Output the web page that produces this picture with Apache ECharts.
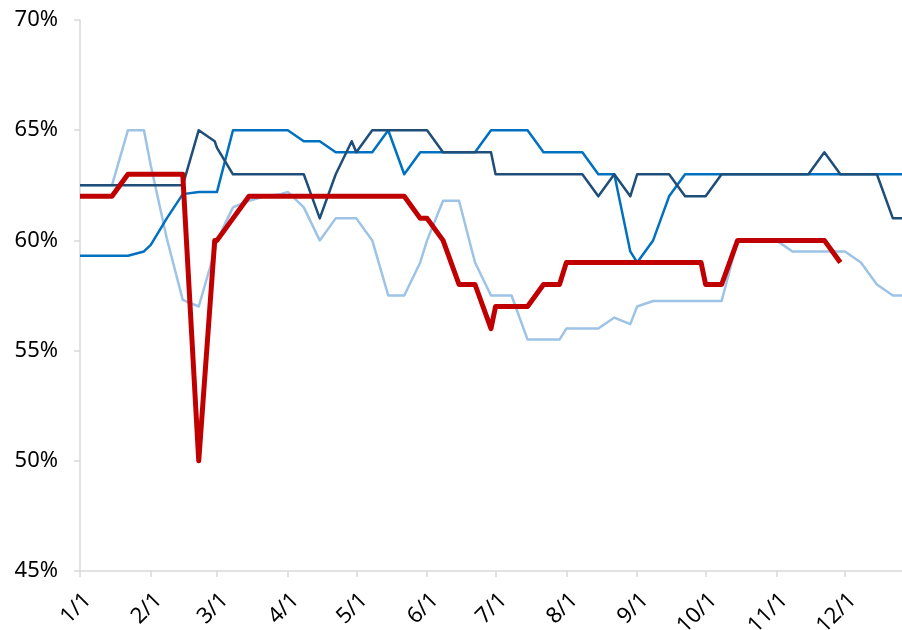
<!DOCTYPE html>
<html>
<head>
<meta charset="utf-8">
<script src="https://cdn.jsdelivr.net/npm/echarts@6/dist/echarts.min.js"></script>
<style>
  html, body { margin: 0; padding: 0; background: #fff; }
  #chart { width: 902px; height: 630px; }
</style>
</head>
<body>
<div id="chart"></div>
<script>
// Observation dates: 1st, 8th, 15th, 22nd and 29th of each month
const dates = [
  '2024-01-01','2024-01-08','2024-01-15','2024-01-22','2024-01-29',
  '2024-02-01','2024-02-08','2024-02-15','2024-02-22','2024-02-29',
  '2024-03-01','2024-03-08','2024-03-15','2024-03-22','2024-03-29',
  '2024-04-01','2024-04-08','2024-04-15','2024-04-22','2024-04-29',
  '2024-05-01','2024-05-08','2024-05-15','2024-05-22','2024-05-29',
  '2024-06-01','2024-06-08','2024-06-15','2024-06-22','2024-06-29',
  '2024-07-01','2024-07-08','2024-07-15','2024-07-22','2024-07-29',
  '2024-08-01','2024-08-08','2024-08-15','2024-08-22','2024-08-29',
  '2024-09-01','2024-09-08','2024-09-15','2024-09-22','2024-09-29',
  '2024-10-01','2024-10-08','2024-10-15','2024-10-22','2024-10-29',
  '2024-11-01','2024-11-08','2024-11-15','2024-11-22','2024-11-29',
  '2024-12-01','2024-12-08','2024-12-15','2024-12-22','2024-12-29'
];

// Series values (%)
const lightBlue = [
  62.5, 62.5, 62.5, 65, 65,
  63.4, 60.1, 57.3, 57.0, 59.5,
  60, 61.5, 61.8, 62, 62.1,
  62.2, 61.5, 60, 61, 61,
  61, 60, 57.5, 57.5, 59,
  60, 61.8, 61.8, 59, 57.5,
  57.5, 57.5, 55.5, 55.5, 55.5,
  56, 56, 56, 56.5, 56.2,
  57, 57.25, 57.25, 57.25, 57.25,
  57.25, 57.25, 60, 60, 60,
  60, 59.5, 59.5, 59.5, 59.5,
  59.5, 59, 58, 57.5, 57.5
];
const midBlue = [
  59.3, 59.3, 59.3, 59.3, 59.5,
  59.8, 61.0, 62.1, 62.2, 62.2,
  62.2, 65, 65, 65, 65,
  65, 64.5, 64.5, 64, 64,
  64, 64, 65, 63, 64,
  64, 64, 64, 64, 65,
  65, 65, 65, 64, 64,
  64, 64, 63, 63, 59.5,
  59.0, 60, 62, 63, 63,
  63, 63, 63, 63, 63,
  63, 63, 63, 63, 63,
  63, 63, 63, 63, 63
];
const navy = [
  62.5, 62.5, 62.5, 62.5, 62.5,
  62.5, 62.5, 62.5, 65, 64.5,
  64.2, 63, 63, 63, 63,
  63, 63, 61, 63, 64.5,
  64, 65, 65, 65, 65,
  65, 64, 64, 64, 64,
  63, 63, 63, 63, 63,
  63, 63, 62, 63, 62,
  63, 63, 63, 62, 62,
  62, 63, 63, 63, 63,
  63, 63, 63, 64, 63,
  63, 63, 63, 61, 61
];
const red = [
  62, 62, 62, 63, 63,
  63, 63, 63, 50, 60,
  60, 61, 62, 62, 62,
  62, 62, 62, 62, 62,
  62, 62, 62, 62, 61,
  61, 60, 58, 58, 56,
  57, 57, 57, 58, 58,
  59, 59, 59, 59, 59,
  59, 59, 59, 59, 59,
  58, 58, 60, 60, 60,
  60, 60, 60, 60, 59,
  null, null, null, null, null
];

// Axis ticks
const monthTicks = [
  '2024-01-01','2024-02-01','2024-03-01','2024-04-01','2024-05-01','2024-06-01',
  '2024-07-01','2024-08-01','2024-09-01','2024-10-01','2024-11-01','2024-12-01'
];
const xStart = '2024-01-01';
const xEnd = '2024-12-26';
const yMin = 45, yMax = 70, yStep = 5;

const DAY = 86400000;
function toTime(s) {
  const p = s.split('-').map(Number);
  return Date.UTC(p[0], p[1] - 1, p[2]);
}
// day offset from the start of the axis
function dayOf(s) {
  return Math.round((toTime(s) - toTime(xStart)) / DAY);
}
function pairs(values) {
  return dates.map((d, i) => [dayOf(d), values[i]]);
}
function dayLabel(v) {
  const d = new Date(toTime(xStart) + v * DAY);
  return (d.getUTCMonth() + 1) + '/' + d.getUTCDate();
}

const FONT = '"Noto Sans", "Open Sans", sans-serif';
const AXIS_GREY = '#D9D9D9';
const tickDays = monthTicks.map(dayOf);

const chart = echarts.init(document.getElementById('chart'), null, { renderer: 'canvas' });

function line(name, values, color, width) {
  return {
    name: name,
    type: 'line',
    data: pairs(values),
    showSymbol: false,
    symbol: 'none',
    connectNulls: false,
    lineStyle: { color: color, width: width, join: 'round' },
    itemStyle: { color: color },
    clip: true
  };
}

chart.setOption({
  animation: false,
  backgroundColor: '#fff',
  grid: { left: 80, right: 0, top: 20, bottom: 59, containLabel: false, outerBoundsMode: 'none' },
  xAxis: {
    type: 'value',
    min: 0,
    max: dayOf(xEnd),
    axisLine: { show: true, onZero: false, lineStyle: { color: AXIS_GREY, width: 1.5 } },
    axisTick: { show: true, length: 6, customValues: tickDays, lineStyle: { color: AXIS_GREY, width: 1.5 } },
    axisLabel: {
      customValues: tickDays,
      rotate: 45,
      margin: 18,
      verticalAlign: 'top',
      fontFamily: FONT,
      fontSize: 22,
      color: '#000',
      formatter: dayLabel
    },
    splitLine: { show: false }
  },
  yAxis: {
    type: 'value',
    min: yMin,
    max: yMax,
    interval: yStep,
    axisLine: { show: true, lineStyle: { color: AXIS_GREY, width: 1.5 } },
    axisTick: { show: true, length: 6, lineStyle: { color: AXIS_GREY, width: 1.5 } },
    axisLabel: {
      margin: 22,
      fontFamily: FONT,
      fontSize: 22,
      color: '#000',
      formatter: '{value}%'
    },
    splitLine: { show: false }
  },
  series: [
    line('浅蓝', lightBlue, '#9DC3E6', 2.5),
    line('中蓝', midBlue, '#0070C0', 2.5),
    line('深蓝', navy, '#1F4E79', 2.5),
    line('红线', red, '#C00000', 5)
  ]
});
</script>
</body>
</html>
